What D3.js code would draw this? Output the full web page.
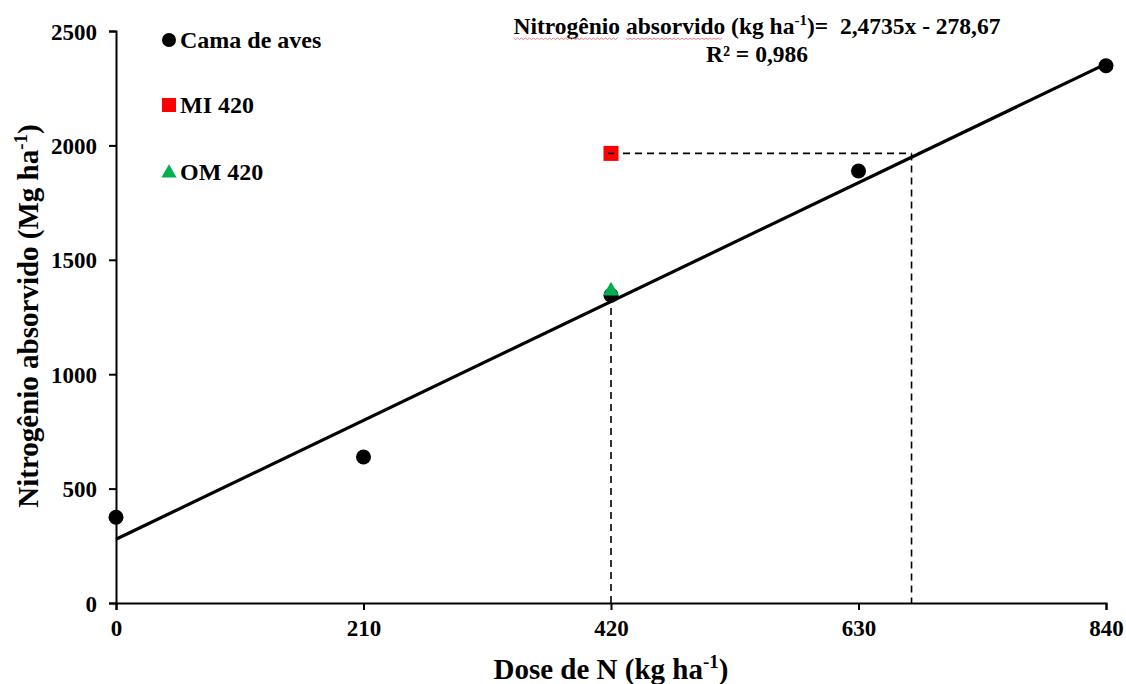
<!DOCTYPE html>
<html>
<head>
<meta charset="utf-8">
<script src="https://cdn.jsdelivr.net/npm/d3@7"></script>
<style>
  body { margin: 0; background: #fff; }
  svg text { font-family: "Liberation Serif", "Times New Roman", serif; font-weight: bold; fill: #000; }
</style>
</head>
<body>
<div id="chart"></div>
<script>
// data
const doses = [0, 210, 420, 630, 840];
const camaValues = [375, 638, 1345, 1888, 2348];
const miPoint = [420, 1965];
const omPoint = [420, 1368];
const xTicks = [0, 210, 420, 630, 840];
const yTicks = [0, 500, 1000, 1500, 2000, 2500];
const slope = 2.4735;
const intercept = 278.67;
const crossDose = 675;

const width = 1126;
const height = 684;
const margin = {top: 31, right: 20, bottom: 81, left: 116};

const svg = d3.select('#chart').append('svg')
    .attr('width', width)
    .attr('height', height);

const x = d3.scaleLinear().domain([0, 840]).range([margin.left, 1106]);
const y = d3.scaleLinear().domain([0, 2500]).range([height - margin.bottom, margin.top]);

// axes
const xAxis = svg.append('g')
    .attr('transform', `translate(0,${y(0)})`)
    .call(d3.axisBottom(x).tickValues(xTicks).tickSize(7).tickPadding(10).tickFormat(d3.format('d')));
const yAxis = svg.append('g')
    .attr('transform', `translate(${x(0)},0)`)
    .call(d3.axisLeft(y).tickValues(yTicks).tickSize(7).tickPadding(12).tickFormat(d3.format('d')));

[xAxis, yAxis].forEach(a => {
    a.attr('font-size', 23).attr('font-family', '"Liberation Serif", serif');
    a.select('.domain').attr('stroke', '#000').attr('stroke-width', 2);
    a.selectAll('.tick line').attr('stroke', '#000').attr('stroke-width', 2);
    a.selectAll('.tick text').style('font-size', '23px');
});
yAxis.selectAll('.tick text').attr('dy', '0.35em');

// dashed guides
const dash = svg.append('g')
    .attr('stroke', '#000')
    .attr('stroke-width', 1.6)
    .attr('stroke-dasharray', '7,5')
    .attr('fill', 'none');
dash.append('line')
    .attr('x1', x(420)).attr('x2', x(420))
    .attr('y1', y(0)).attr('y2', y(camaValues[2]));
dash.append('line')
    .attr('x1', x(miPoint[0])).attr('x2', x(crossDose))
    .attr('y1', y(miPoint[1])).attr('y2', y(miPoint[1]));
dash.append('line')
    .attr('x1', x(crossDose)).attr('x2', x(crossDose))
    .attr('y1', y(miPoint[1])).attr('y2', y(0));

// regression line
const line = d3.line().x(d => x(d)).y(d => y(slope * d + intercept));
svg.append('path')
    .datum([0, 840])
    .attr('d', line)
    .attr('stroke', '#000')
    .attr('stroke-width', 3.2)
    .attr('fill', 'none');

// points
svg.selectAll('.cama')
    .data(doses.map((d, i) => [d, camaValues[i]]))
    .enter().append('circle')
    .attr('class', 'cama')
    .attr('cx', d => x(d[0]))
    .attr('cy', d => y(d[1]))
    .attr('r', 7.5)
    .attr('fill', '#000');

svg.append('rect')
    .attr('x', x(miPoint[0]) - 7.5)
    .attr('y', y(miPoint[1]) - 7.5)
    .attr('width', 15).attr('height', 15)
    .attr('fill', '#ff0000');
svg.append('line')
    .attr('x1', x(miPoint[0]) - 3).attr('x2', x(miPoint[0]) + 3)
    .attr('y1', y(miPoint[1])).attr('y2', y(miPoint[1]))
    .attr('stroke', '#000').attr('stroke-width', 1.5);

svg.append('path')
    .attr('d', d3.symbol().type(d3.symbolTriangle).size(110)())
    .attr('transform', `translate(${x(omPoint[0])},${y(omPoint[1]) + 1})`)
    .attr('fill', '#00b050');

// legend
const legendItems = [
    {label: 'Cama de aves', shape: 'circle', color: '#000', yy: 40},
    {label: 'MI 420', shape: 'square', color: '#ff0000', yy: 105},
    {label: 'OM 420', shape: 'triangle', color: '#00b050', yy: 172}
];
const legend = svg.append('g');
legendItems.forEach(it => {
    if (it.shape === 'circle') {
        legend.append('circle').attr('cx', 169).attr('cy', it.yy).attr('r', 7).attr('fill', it.color);
    } else if (it.shape === 'square') {
        legend.append('rect').attr('x', 162).attr('y', it.yy - 7).attr('width', 14).attr('height', 14).attr('fill', it.color);
    } else {
        legend.append('path')
            .attr('d', d3.symbol().type(d3.symbolTriangle).size(100)())
            .attr('transform', `translate(169,${it.yy + 1})`)
            .attr('fill', it.color);
    }
    legend.append('text')
        .attr('x', 180).attr('y', it.yy)
        .attr('dy', '0.35em')
        .style('font-size', '24px')
        .text(it.label);
});

// equation
const eq = svg.append('text')
    .attr('x', 757).attr('y', 34)
    .attr('text-anchor', 'middle')
    .style('font-size', '23.5px')
    .attr('xml:space', 'preserve')
    .style('white-space', 'pre');
eq.append('tspan').text('Nitrogênio absorvido (kg ha');
eq.append('tspan').attr('dy', -9).style('font-size', '15px').text('-1');
eq.append('tspan').attr('dy', 9).text(')=  2,4735x - 278,67');
svg.append('text')
    .attr('x', 757).attr('y', 62)
    .attr('text-anchor', 'middle')
    .style('font-size', '23.5px')
    .text('R² = 0,986');

// red spell-check squiggle under the first two words
const squig = (x0, x1, yy) => {
    let p = `M${x0},${yy}`;
    for (let xx = x0; xx + 4 <= x1; xx += 4) p += `l2,1.5l2,-1.5`;
    return p;
};
const node = eq.node();
[[0, 9], [11, 19]].forEach(([a, b]) => {
    const x0 = node.getStartPositionOfChar(a).x;
    const x1 = node.getEndPositionOfChar(b).x;
    svg.append('path').attr('d', squig(x0, x1, 38))
        .attr('stroke', '#e07070').attr('stroke-width', 0.9).attr('fill', 'none');
});

// axis titles
const xt = svg.append('text')
    .attr('x', 611).attr('y', 679)
    .attr('text-anchor', 'middle')
    .style('font-size', '29px');
xt.append('tspan').text('Dose de N (kg ha');
xt.append('tspan').attr('dy', -11).style('font-size', '19px').text('-1');
xt.append('tspan').attr('dy', 11).text(')');

const yt = svg.append('text')
    .attr('transform', 'translate(38,316) rotate(-90)')
    .attr('text-anchor', 'middle')
    .style('font-size', '29px');
yt.append('tspan').text('Nitrogênio absorvido (Mg ha');
yt.append('tspan').attr('dy', -11).style('font-size', '19px').text('-1');
yt.append('tspan').attr('dy', 11).text(')');
</script>
</body>
</html>
